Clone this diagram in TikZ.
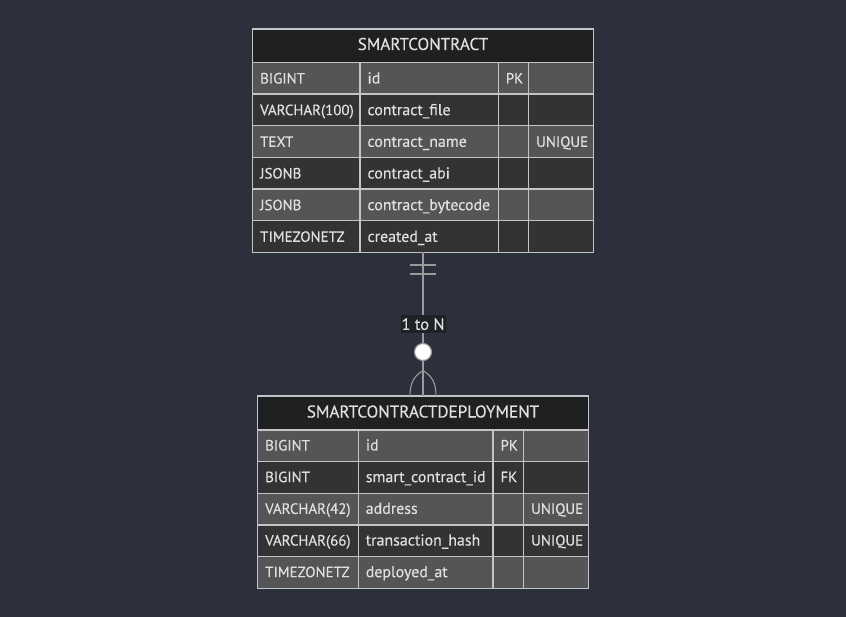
\documentclass[tikz,border=0pt]{standalone}
\usepackage{fontspec}
\setmainfont{PT Sans}[FakeBold=0.3]
\usetikzlibrary{calc}
\definecolor{bgc}{HTML}{2B303C}
\definecolor{hdr}{HTML}{1F2020}
\definecolor{rowA}{HTML}{555555}
\definecolor{rowB}{HTML}{333333}
\definecolor{bord}{HTML}{C4C4C4}
\definecolor{txt}{HTML}{E0E0E0}
\definecolor{lnc}{HTML}{9A9A9A}
\definecolor{lblbg}{HTML}{1E2126}
\tikzset{
  celltext/.style={anchor=base west, text=txt, inner sep=0pt, font=\fontsize{14.9}{18}\selectfont},
  nametext/.style={anchor=base west, text=txt, inner sep=0pt, font=\fontsize{15.9}{18}\selectfont},
  hdrtext/.style={anchor=base, text=txt, inner sep=0pt, font=\fontsize{17.1}{20}\selectfont},
  gridline/.style={draw=bord, line width=1.3pt},
  conn/.style={draw=lnc, line width=1.1pt},
  tblbox/.style={inner sep=0pt, outer sep=0pt, anchor=north west},
  lbl/.style={fill=lblbg, text=txt, inner sep=0pt, minimum width=45pt, minimum height=18pt, font=\fontsize{16.4}{18}\selectfont},
  zerocirc/.style={circle, draw=lnc, line width=1.1pt, fill=white, minimum size=17pt, inner sep=0pt},
}
\begin{document}
\begin{tikzpicture}[x=1pt,y=-1pt]
\fill[bgc] (0,0) rectangle (846,617);
\useasboundingbox (0,0) rectangle (846,617);

% ---------- SMARTCONTRACT ----------
\def\xa{252.7}\def\xb{360}\def\xc{498.3}\def\xd{528.7}\def\xe{593.3}
\def\ytop{29}\def\yhb{62.3}\def\rh{31.67}
\node[tblbox, minimum width=340.6pt, minimum height=223.3pt] (sc) at (\xa,\ytop) {};
\fill[hdr] (\xa,\ytop) rectangle (\xe,\yhb);
\foreach \ty/\nm/\ky/\uq [count=\i from 0] in {BIGINT/id/PK/, VARCHAR(100)/contract\_file//, TEXT/contract\_name//UNIQUE, JSONB/contract\_abi//, JSONB/contract\_bytecode//, TIMEZONETZ/created\_at//}{
  \pgfmathsetmacro\yy{\yhb+\i*\rh}
  \pgfmathparse{mod(\i,2)==0 ? 1 : 0}
  \ifnum\pgfmathresult=1 \fill[rowA] (\xa,\yy) rectangle (\xe,\yy+\rh);
  \else \fill[rowB] (\xa,\yy) rectangle (\xe,\yy+\rh); \fi
  \node[celltext] at (\xa+7.3,\yy+21.2) {\ty};
  \node[nametext] at (\xb+7.3,\yy+21.2) {\nm};
  \node[celltext] at (\xc+7.3,\yy+21.2) {\ky};
  \node[celltext] at (\xd+7.3,\yy+21.2) {\uq};
  \draw[gridline] (\xa,\yy) -- (\xe,\yy);
}
\draw[gridline] (\xa,\ytop) rectangle (\xe,\yhb+6*\rh);
\foreach \xx in {\xb,\xc,\xd} \draw[gridline] (\xx,\yhb) -- (\xx,\yhb+6*\rh);
\node[hdrtext] at ({(\xa+\xe)/2},\ytop+21) {SMARTCONTRACT};

% ---------- SMARTCONTRACTDEPLOYMENT ----------
\def\xa{257.7}\def\xb{358.3}\def\xc{493}\def\xd{523.7}\def\xe{588.3}
\def\ytop{396}\def\yhb{430}
\node[tblbox, minimum width=330.6pt, minimum height=192.35pt] (scd) at (\xa,\ytop) {};
\fill[hdr] (\xa,\ytop) rectangle (\xe,\yhb);
\foreach \ty/\nm/\ky/\uq [count=\i from 0] in {BIGINT/id/PK/, BIGINT/smart\_contract\_id/FK/, VARCHAR(42)/address//UNIQUE, VARCHAR(66)/transaction\_hash//UNIQUE, TIMEZONETZ/deployed\_at//}{
  \pgfmathsetmacro\yy{\yhb+\i*\rh}
  \pgfmathparse{mod(\i,2)==0 ? 1 : 0}
  \ifnum\pgfmathresult=1 \fill[rowA] (\xa,\yy) rectangle (\xe,\yy+\rh);
  \else \fill[rowB] (\xa,\yy) rectangle (\xe,\yy+\rh); \fi
  \node[celltext] at (\xa+7.3,\yy+20.5) {\ty};
  \node[nametext] at (\xb+7.3,\yy+20.5) {\nm};
  \node[celltext] at (\xc+7.3,\yy+20.5) {\ky};
  \node[celltext] at (\xd+7.3,\yy+20.5) {\uq};
  \draw[gridline] (\xa,\yy) -- (\xe,\yy);
}
\draw[gridline] (\xa,\ytop) rectangle (\xe,\yhb+5*\rh);
\foreach \xx in {\xb,\xc,\xd} \draw[gridline] (\xx,\yhb) -- (\xx,\yhb+5*\rh);
\node[hdrtext] at ({(\xa+\xe)/2},\ytop+21.5) {SMARTCONTRACTDEPLOYMENT};

% ---------- relationship ----------
\draw[conn] (sc.south) -- (scd.north);
% exactly-one marker
\draw[conn] ($(sc.south)+(-13,12.7)$) -- ($(sc.south)+(13,12.7)$);
\draw[conn] ($(sc.south)+(-13,21.7)$) -- ($(sc.south)+(13,21.7)$);
% zero-or-many marker
\coordinate (cf) at ($(scd.north)+(0,-25.3)$);
\draw[conn] (cf) .. controls +(-9,5) and +(0,-13) .. ($(scd.north)+(-13,0)$);
\draw[conn] (cf) .. controls +(9,5) and +(0,-13) .. ($(scd.north)+(13,0)$);
\node[zerocirc] (zc) at ($(scd.north)+(0,-44)$) {};
\node[lbl] (lab) at ($(sc.south)+(0,71.8)$) {1 to N};
\end{tikzpicture}
\end{document}
